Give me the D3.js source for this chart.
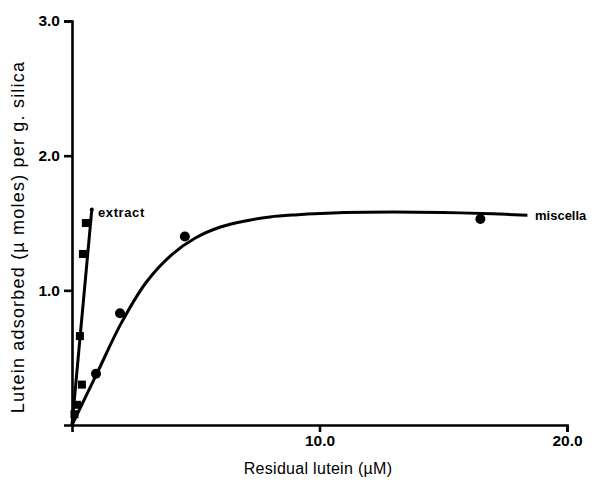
<!DOCTYPE html>
<html><head><meta charset="utf-8">
<script src="https://cdn.jsdelivr.net/npm/d3@7"></script>
<style>body{margin:0;background:#fff}svg{display:block}text{font-family:"Liberation Sans",Arial,sans-serif;fill:#000}</style>
</head><body>
<script>
// Data
const extractX = [0.1, 0.2, 0.4, 0.32, 0.44, 0.56];
const extractY = [0.08, 0.15, 0.30, 0.66, 1.27, 1.50];
const extractFitX = [0, 0.8];
const extractFitY = [0, 1.6];
const miscellaX = [0.97, 1.94, 4.56, 16.5];
const miscellaY = [0.38, 0.83, 1.40, 1.53];
const miscellaFitX = [0, 1, 2, 3, 4, 5, 6, 7, 8, 9, 11, 13, 15, 17, 18.4];
const miscellaFitY = [0, 0.38, 0.76, 1.06, 1.26, 1.39, 1.47, 1.515, 1.545, 1.56, 1.578, 1.582, 1.578, 1.568, 1.558];
const xTicks = [10, 20];
const yTicks = [1, 2, 3];

const W = 605, H = 485;
const svg = d3.select("body").append("svg").attr("width", W).attr("height", H);
const x = d3.scaleLinear().domain([0, 20]).range([72, 567]);
const y = d3.scaleLinear().domain([0, 3]).range([425, 21]);

// axes
const xAxis = svg.append("g").attr("transform", `translate(0,${y(0)})`)
  .call(d3.axisBottom(x).tickValues(xTicks).tickFormat(d3.format(".1f")).tickSizeOuter(0).tickSize(7).tickPadding(3));
const yAxis = svg.append("g").attr("transform", `translate(${x(0)},0)`)
  .call(d3.axisLeft(y).tickValues(yTicks).tickFormat(d3.format(".1f")).tickSizeOuter(0).tickSize(8).tickPadding(4));
[xAxis, yAxis].forEach(g => {
  g.select(".domain").attr("stroke", "#000").attr("stroke-width", 2.6);
  g.selectAll(".tick line").attr("stroke", "#000").attr("stroke-width", 2.6);
  g.selectAll(".tick text").attr("font-size", 15.5).attr("font-weight", "bold").attr("fill", "#000")
    .attr("font-family", "'Liberation Sans',Arial,sans-serif");
});

// fit lines
const line = d3.line().x(d => x(d[0])).y(d => y(d[1]));
svg.append("path").datum(extractFitX.map((v, i) => [v, extractFitY[i]]))
  .attr("d", line).attr("fill", "none").attr("stroke", "#000").attr("stroke-width", 3);
svg.append("circle").attr("cx", x(extractFitX[1])).attr("cy", y(extractFitY[1])).attr("r", 2).attr("fill", "#000");
svg.append("path").datum(miscellaFitX.map((v, i) => [v, miscellaFitY[i]]))
  .attr("d", line.curve(d3.curveCatmullRom)).attr("fill", "none").attr("stroke", "#000").attr("stroke-width", 3);

// points
svg.selectAll(".sq").data(extractX.map((v, i) => [v, extractY[i]])).join("rect")
  .attr("x", d => x(d[0]) - 4).attr("y", d => y(d[1]) - 4).attr("width", 8).attr("height", 8).attr("fill", "#000");
svg.selectAll(".ci").data(miscellaX.map((v, i) => [v, miscellaY[i]])).join("circle")
  .attr("cx", d => x(d[0])).attr("cy", d => y(d[1])).attr("r", 5).attr("fill", "#000");

// labels
svg.append("text").attr("x", 98).attr("y", 217).attr("font-size", 13).attr("font-weight", "bold")
  .attr("letter-spacing", 0.6).text("extract");
svg.append("text").attr("x", 535).attr("y", 220).attr("font-size", 13).attr("font-weight", "bold").text("miscella");
svg.append("text").attr("x", 318).attr("y", 474).attr("text-anchor", "middle").attr("font-size", 16)
  .attr("letter-spacing", 0.3).text("Residual lutein (\u00b5M)");
svg.append("text").attr("transform", "translate(24,237) rotate(-90)").attr("text-anchor", "middle").attr("font-size", 18)
  .attr("letter-spacing", 1.2).text("Lutein adsorbed (\u00b5 moles) per g. silica");
</script>
</body></html>
